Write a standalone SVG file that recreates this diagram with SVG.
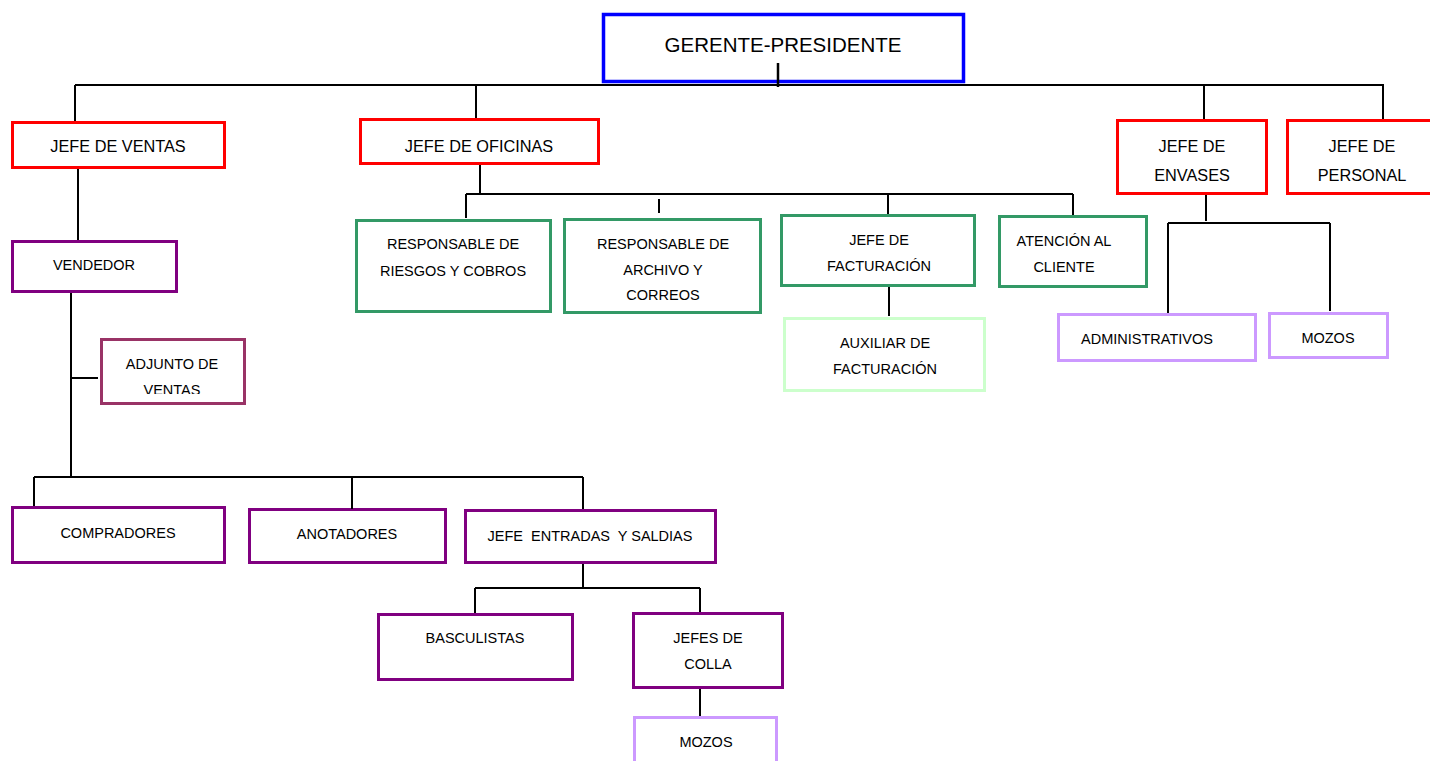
<svg xmlns="http://www.w3.org/2000/svg" width="1430" height="761" viewBox="0 0 1430 761">
<defs>
<style>
.b{fill:#fff;stroke-width:3}
.red{stroke:#ff0000}
.blue{stroke:#0000ff;stroke-width:3.5}
.green{stroke:#339966}
.lgreen{stroke:#ccffcc}
.purple{stroke:#800080}
.plum{stroke:#993366}
.lav{stroke:#cc99ff}
text{font-family:"Liberation Sans",Arial,sans-serif;fill:#000;text-anchor:middle;font-size:14.5px}
.big{font-size:20.5px}
.mid{font-size:16.3px}
#connectors path{fill:none;stroke:#000;stroke-width:2}
</style>
<clipPath id="adjClip"><rect x="100" y="338" width="150" height="56"/></clipPath>
</defs>
<rect width="1430" height="761" fill="#fff"/>
<g id="gerente"><rect class="b blue" x="603.5" y="14.5" width="360" height="67"/><text class="big" x="783" y="52">GERENTE-PRESIDENTE</text></g>
<g id="ventas"><rect class="b red" x="12.5" y="122.5" width="212" height="45"/><text class="mid" x="118" y="152">JEFE DE VENTAS</text></g>
<g id="oficinas"><rect class="b red" x="360.5" y="119.5" width="238" height="44"/><text class="mid" x="479" y="152">JEFE DE OFICINAS</text></g>
<g id="envases"><rect class="b red" x="1117.5" y="120.5" width="149" height="73"/><text class="mid" x="1192" y="152">JEFE DE</text><text class="mid" x="1192" y="181">ENVASES</text></g>
<g id="personal"><rect class="b red" x="1287.5" y="120.5" width="160" height="73"/><text class="mid" x="1362" y="152">JEFE DE</text><text class="mid" x="1362" y="181">PERSONAL</text></g>
<g id="riesgos"><rect class="b green" x="356.5" y="220.5" width="194" height="91"/><text x="453" y="249">RESPONSABLE DE</text><text x="453" y="276">RIESGOS Y COBROS</text></g>
<g id="archivo"><rect class="b green" x="564.5" y="219.5" width="196" height="93"/><text x="663" y="249">RESPONSABLE DE</text><text x="663" y="275">ARCHIVO Y</text><text x="663" y="300">CORREOS</text></g>
<g id="facturacion"><rect class="b green" x="781.5" y="215.5" width="193" height="70"/><text x="879" y="245">JEFE DE</text><text x="879" y="271">FACTURACIÓN</text></g>
<g id="atencion"><rect class="b green" x="999.5" y="216.5" width="147" height="70"/><text x="1064" y="246">ATENCIÓN AL</text><text x="1064" y="272">CLIENTE</text></g>
<g id="auxiliar"><rect class="b lgreen" x="784.5" y="318.5" width="200" height="72"/><text x="885" y="348">AUXILIAR DE</text><text x="885" y="374">FACTURACIÓN</text></g>
<g id="administrativos"><rect class="b lav" x="1058.5" y="314.5" width="197" height="46"/><text x="1147" y="344">ADMINISTRATIVOS</text></g>
<g id="mozos-envases"><rect class="b lav" x="1269.5" y="313.5" width="118" height="44"/><text x="1328" y="343">MOZOS</text></g>
<g id="vendedor"><rect class="b purple" x="12.5" y="241.5" width="164" height="50"/><text x="94" y="270">VENDEDOR</text></g>
<g id="adjunto"><rect class="b plum" x="101.5" y="339.5" width="143" height="64"/><g clip-path="url(#adjClip)"><text x="172" y="369">ADJUNTO DE</text><text x="172" y="395">VENTAS</text></g></g>
<g id="compradores"><rect class="b purple" x="12.5" y="507.5" width="212" height="55"/><text x="118" y="538">COMPRADORES</text></g>
<g id="anotadores"><rect class="b purple" x="249.5" y="509.5" width="196" height="53"/><text x="347" y="539">ANOTADORES</text></g>
<g id="entradas"><rect class="b purple" x="465.5" y="510.5" width="250" height="52"/><text x="590" y="541" xml:space="preserve" style="white-space:pre">JEFE  ENTRADAS  Y SALDIAS</text></g>
<g id="basculistas"><rect class="b purple" x="378.5" y="614.5" width="194" height="65"/><text x="475" y="643">BASCULISTAS</text></g>
<g id="colla"><rect class="b purple" x="633.5" y="613.5" width="149" height="74"/><text x="708" y="643">JEFES DE</text><text x="708" y="669">COLLA</text></g>
<g id="mozos-colla"><rect class="b lav" x="634.5" y="717.5" width="142" height="60"/><text x="706" y="747">MOZOS</text></g>
<g id="connectors">
<path d="M75,85 H1384"/>
<path d="M75,85 V121"/>
<path d="M476,85 V118"/>
<path d="M1204,85 V119"/>
<path d="M1383,85 V119"/>
<path d="M778,63 V87" style="stroke-width:2.5"/>
<path d="M78,169 V240"/>
<path d="M71,293 V477"/>
<path d="M71,378 H98"/>
<path d="M34,477 H583"/>
<path d="M34,477 V506"/>
<path d="M352,477 V509"/>
<path d="M583,477 V509"/>
<path d="M583,564 V588"/>
<path d="M475,588 H700"/>
<path d="M475,588 V613"/>
<path d="M700,588 V612"/>
<path d="M700,689 V716"/>
<path d="M480,165 V194"/>
<path d="M466,194 H1073"/>
<path d="M466,194 V218"/>
<path d="M659,199 V213"/>
<path d="M888,193 V214"/>
<path d="M1073,194 V215"/>
<path d="M889,287 V316"/>
<path d="M1206,195 V221"/>
<path d="M1168,223 H1330"/>
<path d="M1168,223 V313"/>
<path d="M1330,223 V311"/>
</g>
</svg>
